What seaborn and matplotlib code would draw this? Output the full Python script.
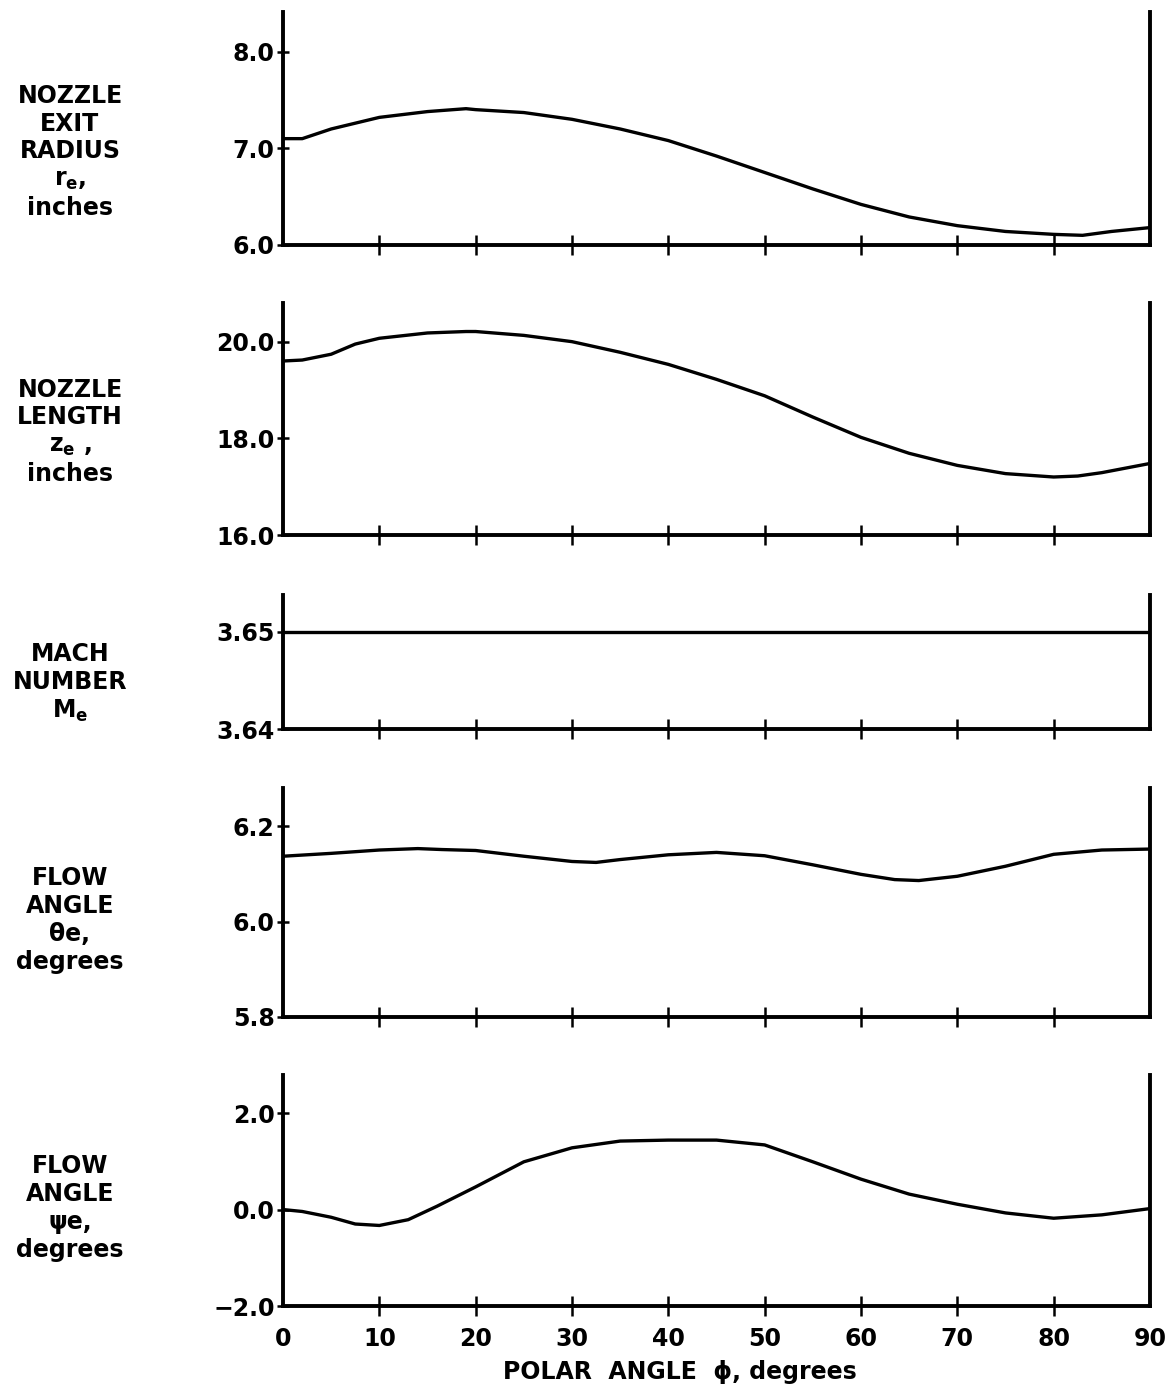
import matplotlib
matplotlib.use("Agg")
import matplotlib.pyplot as plt
import seaborn as sns
import pandas as pd

# ---------------- data ----------------
phi_re = [0, 2, 5, 10, 15, 19, 20, 25, 30, 35, 40, 45, 50, 55, 60, 65, 70, 75, 80, 83, 86, 90]
re_vals = [7.10, 7.10, 7.20, 7.32, 7.38, 7.41, 7.40, 7.37, 7.30, 7.20, 7.08, 6.92, 6.75, 6.58,
           6.42, 6.29, 6.20, 6.14, 6.11, 6.10, 6.14, 6.18]

phi_ze = [0, 2, 5, 7.5, 10, 15, 19, 20, 25, 30, 35, 40, 45, 50, 55, 60, 65, 70, 75, 80, 82.5, 85, 90]
ze_vals = [19.60, 19.62, 19.74, 19.95, 20.07, 20.18, 20.21, 20.21, 20.13, 20.00, 19.78, 19.53,
           19.22, 18.88, 18.44, 18.02, 17.69, 17.44, 17.27, 17.20, 17.22, 17.29, 17.48]

phi_me = [0, 90]
me_vals = [3.65, 3.65]

phi_th = [0, 5, 10, 14, 16.5, 20, 25, 30, 32.5, 35, 40, 45, 50, 55, 60, 63.5, 66, 70, 75, 80, 85, 90]
th_vals = [6.137, 6.143, 6.150, 6.153, 6.151, 6.149, 6.137, 6.126, 6.124, 6.130, 6.140, 6.145,
           6.138, 6.119, 6.099, 6.088, 6.086, 6.095, 6.116, 6.141, 6.150, 6.152]

phi_ps = [0, 2, 5, 7.5, 10, 13, 16, 20, 25, 30, 35, 40, 45, 50, 55, 60, 65, 70, 75, 80, 85, 90]
ps_vals = [0.0, -0.04, -0.16, -0.30, -0.33, -0.21, 0.07, 0.47, 0.99, 1.28, 1.42, 1.44, 1.44,
           1.34, 0.99, 0.63, 0.32, 0.11, -0.07, -0.18, -0.11, 0.02]

ytick_re = [6.0, 7.0, 8.0]
ytick_ze = [16.0, 18.0, 20.0]
ytick_me = [3.64, 3.65]
ytick_th = [5.8, 6.0, 6.2]
ytick_ps = [-2.0, 0.0, 2.0]

ylab_re = ["6.0", "7.0", "8.0"]
ylab_ze = ["16.0", "18.0", "20.0"]
ylab_me = ["3.64", "3.65"]
ylab_th = ["5.8", "6.0", "6.2"]
ylab_ps = ["\u22122.0", "0.0", "2.0"]

xticks = [0, 10, 20, 30, 40, 50, 60, 70, 80, 90]
xticklabels = ["0", "10", "20", "30", "40", "50", "60", "70", "80", "90"]

side_labels = [
    "NOZZLE\nEXIT\nRADIUS\nr$_e$,\ninches",
    "NOZZLE\nLENGTH\nz$_e$ ,\ninches",
    "MACH\nNUMBER\nM$_e$",
    "FLOW\nANGLE\n\u03b8e,\ndegrees",
    "FLOW\nANGLE\n\u03c8e,\ndegrees",
]
xlabel = "POLAR  ANGLE  \u03d5, degrees"

# ---------------- style ----------------
sns.set_style("ticks")
plt.rcParams['font.family'] = ['DejaVu Sans']
plt.rcParams['mathtext.default'] = 'regular'
for k in ('text.color', 'xtick.color', 'ytick.color', 'axes.labelcolor', 'axes.edgecolor'):
    plt.rcParams[k] = 'black'

W_PX, H_PX = 1171, 1390
fig = plt.figure(figsize=(W_PX / 100, H_PX / 100), dpi=100)

x_left_px, x_right_px = 283, 1150
# (top px, bottom px, ylim top, ylim bottom, label center px)
layout = [
    (12, 245, 8.41, 6.0, 152),
    (303, 535, 20.8, 16.0, 432),
    (595, 729, 3.6538, 3.64, 683),
    (788, 1017, 6.28, 5.8, 920),
    (1075, 1306, 2.79, -2.0, 1208),
]

series = [
    (phi_re, re_vals, ytick_re, ylab_re),
    (phi_ze, ze_vals, ytick_ze, ylab_ze),
    (phi_me, me_vals, ytick_me, ylab_me),
    (phi_th, th_vals, ytick_th, ylab_th),
    (phi_ps, ps_vals, ytick_ps, ylab_ps),
]

for i, ((top, bot, ytop, ybot, lab_c), (xs, ys, yt, yl)) in enumerate(zip(layout, series)):
    ax = fig.add_axes([x_left_px / W_PX, 1 - bot / H_PX,
                       (x_right_px - x_left_px) / W_PX, (bot - top) / H_PX])
    df = pd.DataFrame({"phi": xs, "val": ys})
    sns.lineplot(data=df, x="phi", y="val", ax=ax, color="black", linewidth=2.4)
    ax.set_xlim(0, 90)
    ax.set_ylim(ybot, ytop)
    ax.set_xlabel("")
    ax.set_ylabel("")
    ax.spines["top"].set_visible(False)
    for s in ("left", "right", "bottom"):
        ax.spines[s].set_linewidth(2.8)
        ax.spines[s].set_color("black")
    ax.set_xticks(xticks)
    if i == len(layout) - 1:
        ax.set_xticklabels(xticklabels, fontsize=17, fontweight="bold")
    else:
        ax.set_xticklabels([])
    ax.set_yticks(yt)
    ax.set_yticklabels(yl, fontsize=17, fontweight="bold")
    ax.tick_params(axis="x", direction="inout", length=14, width=1.8, pad=8)
    ax.tick_params(axis="y", direction="inout", length=8, width=1.8, pad=2)
    mt = ax.xaxis.get_major_ticks()
    for t in (mt[0], mt[-1]):
        t.tick1line.set_visible(False)
    fig.text(70 / W_PX, 1 - lab_c / H_PX, side_labels[i], ha="center", va="center",
             fontsize=17, fontweight="bold", linespacing=1.2)

fig.text(680 / W_PX, 1 - 1372 / H_PX, xlabel, ha="center", va="center",
         fontsize=17, fontweight="bold")

fig.savefig("out.png", dpi=100, facecolor="white")
